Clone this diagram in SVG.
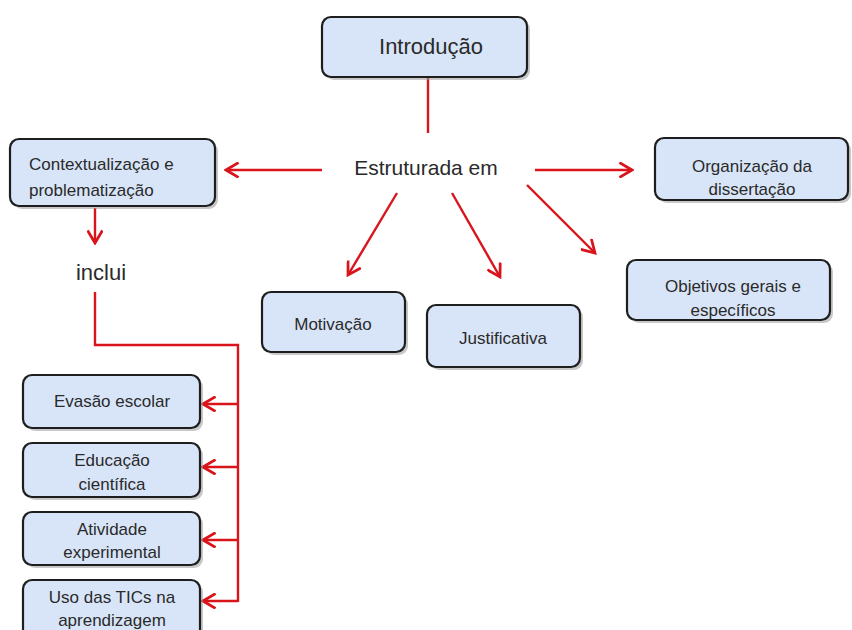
<svg xmlns="http://www.w3.org/2000/svg" width="852" height="630" viewBox="0 0 852 630">
<defs>
<style>
.box{fill:#d8e5f8;stroke:#1e1e1e;stroke-width:2.2}
.sh{fill:#9a9a9a;opacity:0.55}
.t{font-family:"Liberation Sans",Arial,sans-serif;font-size:17px;fill:#2a2a2a;text-anchor:middle}
.big{font-size:21px}
.c{fill:none;stroke:#d9141b;stroke-width:2.4}
</style>
<marker id="ah" markerUnits="userSpaceOnUse" markerWidth="16" markerHeight="16" refX="12" refY="7" viewBox="0 0 14 14" orient="auto">
<path d="M1,0.5 L12,7 L1,13.5" fill="none" stroke="#d9141b" stroke-width="2.4"/>
</marker>
</defs>
<rect width="852" height="630" fill="#ffffff"/>

<g id="connectors">
<path class="c" d="M428,78 V133"/>
<path class="c" d="M322,170 H226" marker-end="url(#ah)"/>
<path class="c" d="M535,170 H632" marker-end="url(#ah)"/>
<path class="c" d="M397,193 L348,275" marker-end="url(#ah)"/>
<path class="c" d="M452,193 L500,277" marker-end="url(#ah)"/>
<path class="c" d="M527,185 L595,253" marker-end="url(#ah)"/>
<path class="c" d="M95,208 V243" marker-end="url(#ah)"/>
<path class="c" d="M95,292 V345 H238 V602"/>
<path class="c" d="M238,404 H203" marker-end="url(#ah)"/>
<path class="c" d="M238,467 H203" marker-end="url(#ah)"/>
<path class="c" d="M238,540 H203" marker-end="url(#ah)"/>
<path class="c" d="M238,601 H203" marker-end="url(#ah)"/>
</g>

<g id="introducao">
<rect class="sh" x="325" y="20" width="205" height="60" rx="9"/>
<rect class="box" x="322" y="17" width="205" height="60" rx="9"/>
<text class="t" x="431" y="54" style="font-size:22px">Introdução</text>
</g>

<g id="estruturada">
<text class="t big" x="426" y="175">Estruturada em</text>
</g>

<g id="contextualizacao">
<rect class="sh" x="13" y="142" width="205" height="67" rx="9"/>
<rect class="box" x="10" y="139" width="205" height="67" rx="9"/>
<text class="t" x="29" y="170" style="text-anchor:start">Contextualização e</text>
<text class="t" x="29" y="196" style="text-anchor:start">problematização</text>
</g>

<g id="inclui">
<text class="t" x="101" y="280" style="font-size:22px">inclui</text>
</g>

<g id="organizacao">
<rect class="sh" x="658" y="141" width="193" height="62" rx="9"/>
<rect class="box" x="655" y="138" width="193" height="62" rx="9"/>
<text class="t" x="752" y="172">Organização da</text>
<text class="t" x="752" y="195">dissertação</text>
</g>

<g id="objetivos">
<rect class="sh" x="630" y="263" width="203" height="60" rx="9"/>
<rect class="box" x="627" y="260" width="203" height="60" rx="9"/>
<text class="t" x="733" y="292">Objetivos gerais e</text>
<text class="t" x="733" y="316">específicos</text>
</g>

<g id="motivacao">
<rect class="sh" x="265" y="295" width="143" height="60" rx="9"/>
<rect class="box" x="262" y="292" width="143" height="60" rx="9"/>
<text class="t" x="333" y="330">Motivação</text>
</g>

<g id="justificativa">
<rect class="sh" x="430" y="308" width="153" height="62" rx="9"/>
<rect class="box" x="427" y="305" width="153" height="62" rx="9"/>
<text class="t" x="503" y="344">Justificativa</text>
</g>

<g id="evasao">
<rect class="sh" x="26" y="378" width="177" height="53" rx="9"/>
<rect class="box" x="23" y="375" width="177" height="53" rx="9"/>
<text class="t" x="112" y="407">Evasão escolar</text>
</g>

<g id="educacao">
<rect class="sh" x="26" y="446" width="177" height="54" rx="9"/>
<rect class="box" x="23" y="443" width="177" height="54" rx="9"/>
<text class="t" x="112" y="466">Educação</text>
<text class="t" x="112" y="490">científica</text>
</g>

<g id="atividade">
<rect class="sh" x="26" y="515" width="177" height="53" rx="9"/>
<rect class="box" x="23" y="512" width="177" height="53" rx="9"/>
<text class="t" x="112" y="535">Atividade</text>
<text class="t" x="112" y="558">experimental</text>
</g>

<g id="uso-tics">
<rect class="sh" x="26" y="583" width="177" height="60" rx="9"/>
<rect class="box" x="23" y="580" width="177" height="60" rx="9"/>
<text class="t" x="112" y="603">Uso das TICs na</text>
<text class="t" x="112" y="626">aprendizagem</text>
</g>
</svg>
